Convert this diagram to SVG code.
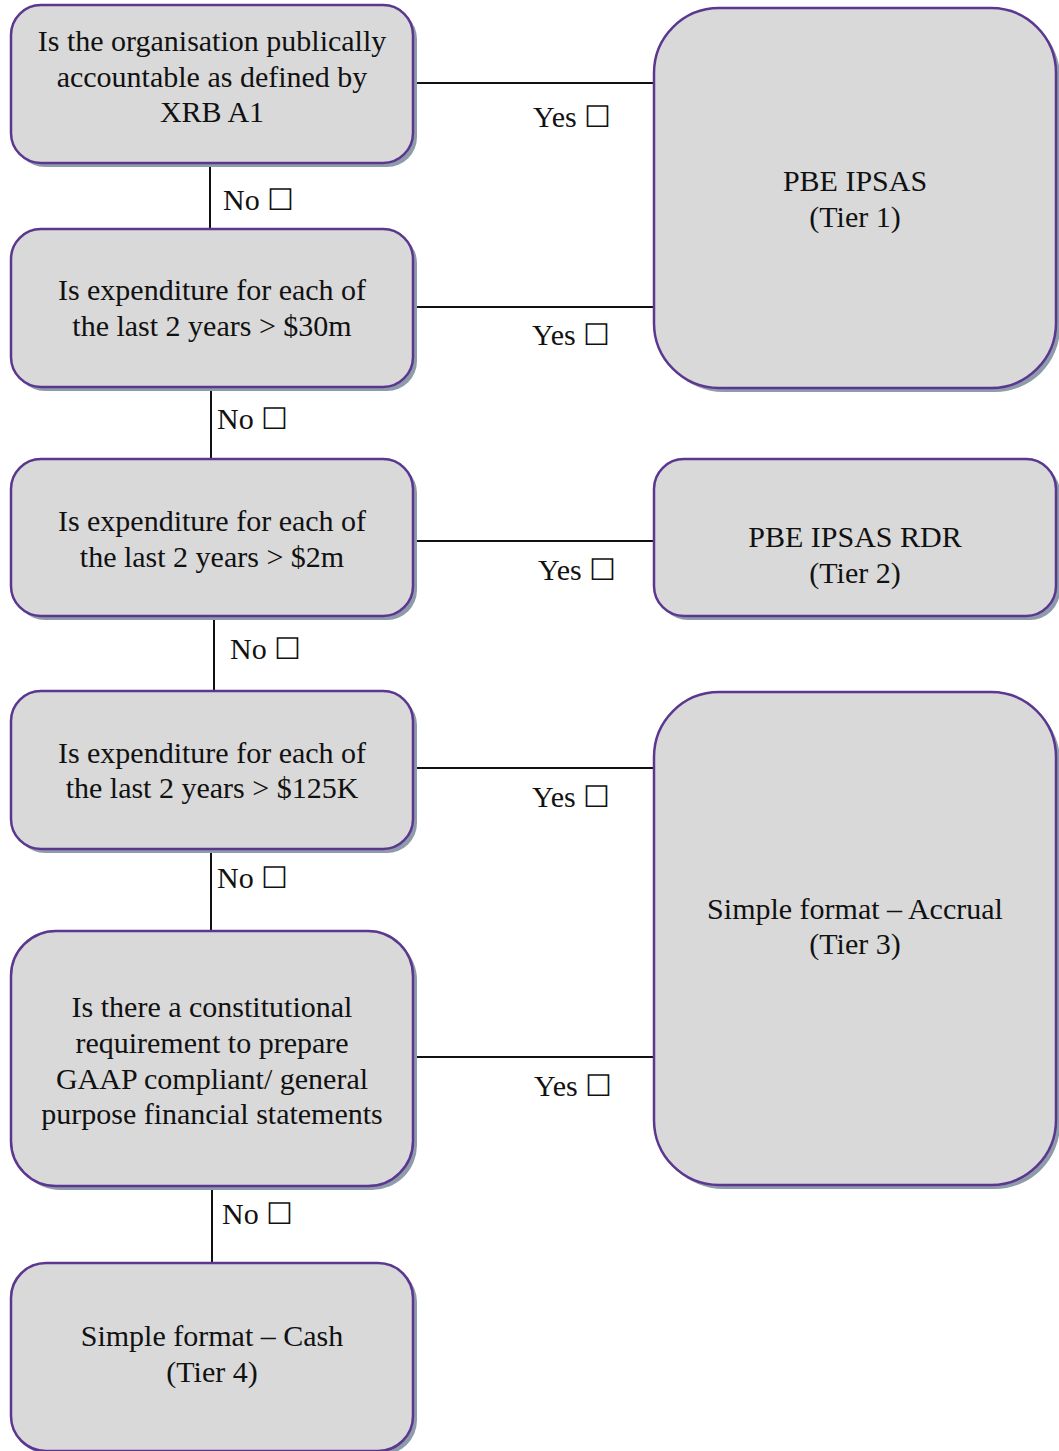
<svg xmlns="http://www.w3.org/2000/svg" width="1059" height="1451" viewBox="0 0 1059 1451">
<style>
.sh{fill:#8e9bab}
.bx{fill:#d9d9d9;stroke:#5b3790;stroke-width:2.5}
.t{font-family:'Liberation Serif','Times New Roman',serif;font-size:30px;fill:#111;text-anchor:middle}
.l{font-family:'Liberation Serif','DejaVu Serif',serif;font-size:30px;fill:#111}
.c{stroke:#111;stroke-width:2;fill:none}
</style>
<rect width="1059" height="1451" fill="#fff"/>
<g id="connectors">
<line class="c" x1="413" y1="83" x2="654" y2="83"/>
<line class="c" x1="413" y1="307" x2="654" y2="307"/>
<line class="c" x1="413" y1="541" x2="654" y2="541"/>
<line class="c" x1="413" y1="768" x2="654" y2="768"/>
<line class="c" x1="413" y1="1057" x2="654" y2="1057"/>
<line class="c" x1="210" y1="163" x2="210" y2="229"/>
<line class="c" x1="211" y1="387" x2="211" y2="459"/>
<line class="c" x1="214" y1="616" x2="214" y2="691"/>
<line class="c" x1="211" y1="849" x2="211" y2="931"/>
<line class="c" x1="212" y1="1186" x2="212" y2="1263"/>
<text class="l" x="533" y="127">Yes ☐</text>
<text class="l" x="223" y="210">No ☐</text>
<text class="l" x="532" y="345">Yes ☐</text>
<text class="l" x="217" y="429">No ☐</text>
<text class="l" x="538" y="580">Yes ☐</text>
<text class="l" x="230" y="659">No ☐</text>
<text class="l" x="532" y="807">Yes ☐</text>
<text class="l" x="217" y="888">No ☐</text>
<text class="l" x="534" y="1096">Yes ☐</text>
<text class="l" x="222" y="1224">No ☐</text>
</g>
<g id="q1">
<rect class="sh" x="15" y="9" width="402" height="158" rx="30"/>
<rect class="bx" x="11" y="5" width="402" height="158" rx="30"/>
<text class="t" x="212" y="51">Is the organisation publically</text>
<text class="t" x="212" y="87">accountable as defined by</text>
<text class="t" x="212" y="122">XRB A1</text>
</g>
<g id="q2">
<rect class="sh" x="15" y="233" width="402" height="158" rx="30"/>
<rect class="bx" x="11" y="229" width="402" height="158" rx="30"/>
<text class="t" x="212" y="300">Is expenditure for each of</text>
<text class="t" x="212" y="336">the last 2 years &gt; $30m</text>
</g>
<g id="q3">
<rect class="sh" x="15" y="463" width="402" height="157" rx="30"/>
<rect class="bx" x="11" y="459" width="402" height="157" rx="30"/>
<text class="t" x="212" y="531">Is expenditure for each of</text>
<text class="t" x="212" y="567">the last 2 years &gt; $2m</text>
</g>
<g id="q4">
<rect class="sh" x="15" y="695" width="402" height="158" rx="30"/>
<rect class="bx" x="11" y="691" width="402" height="158" rx="30"/>
<text class="t" x="212" y="763">Is expenditure for each of</text>
<text class="t" x="212" y="798">the last 2 years &gt; $125K</text>
</g>
<g id="q5">
<rect class="sh" x="15" y="935" width="402" height="255" rx="45"/>
<rect class="bx" x="11" y="931" width="402" height="255" rx="45"/>
<text class="t" x="212" y="1017">Is there a constitutional</text>
<text class="t" x="212" y="1053">requirement to prepare</text>
<text class="t" x="212" y="1089">GAAP compliant/ general</text>
<text class="t" x="212" y="1124">purpose financial statements</text>
</g>
<g id="tier4">
<rect class="sh" x="15" y="1267" width="402" height="188" rx="35"/>
<rect class="bx" x="11" y="1263" width="402" height="188" rx="35"/>
<text class="t" x="212" y="1346">Simple format – Cash</text>
<text class="t" x="212" y="1382">(Tier 4)</text>
</g>
<g id="tier1">
<rect class="sh" x="658" y="12" width="402" height="380" rx="65"/>
<rect class="bx" x="654" y="8" width="402" height="380" rx="65"/>
<text class="t" x="855" y="191">PBE IPSAS</text>
<text class="t" x="855" y="227">(Tier 1)</text>
</g>
<g id="tier2">
<rect class="sh" x="658" y="463" width="402" height="157" rx="30"/>
<rect class="bx" x="654" y="459" width="402" height="157" rx="30"/>
<text class="t" x="855" y="547">PBE IPSAS RDR</text>
<text class="t" x="855" y="583">(Tier 2)</text>
</g>
<g id="tier3">
<rect class="sh" x="658" y="696" width="402" height="493" rx="65"/>
<rect class="bx" x="654" y="692" width="402" height="493" rx="65"/>
<text class="t" x="855" y="919">Simple format – Accrual</text>
<text class="t" x="855" y="954">(Tier 3)</text>
</g>
</svg>
